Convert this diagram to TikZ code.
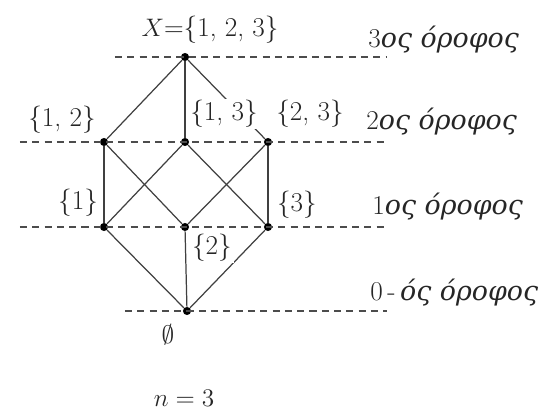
\documentclass[tikz,border=0pt]{standalone}
\usepackage{amsmath,amssymb}
\usepackage{fontspec}
\usepackage{tikz}
\usetikzlibrary{positioning}
\newfontfamily\grfont{DejaVu Serif}

\tikzset{
  vertex/.style={circle, fill=black, inner sep=0pt, minimum size=4.6pt},
  edge/.style={draw=black!75, line width=0.7pt},
  floorline/.style={draw=black!70, line width=0.6pt, dash pattern=on 4pt off 3pt},
  setlabel/.style={fill=white, inner sep=1pt, text=black!85, font=\fontsize{15.5}{18}\selectfont},
  floorlabel/.style={anchor=west, inner sep=0pt, text=black!85, font=\fontsize{15.5}{18}\selectfont},
}
\newcommand{\grit}[1]{{\grfont\itshape\fontsize{15.3}{17}\selectfont #1}}

\begin{document}
\begin{tikzpicture}[x=0.02cm, y=-0.02cm]
  \useasboundingbox (0,0) rectangle (549,413);
  % vertices, one row per floor
  \node[vertex] (top) at (185,57) {};
  \node[vertex] (s12) at (104,142) {};
  \node[vertex] (s13) at (185,142) {};
  \node[vertex] (s23) at (268,142) {};
  \node[vertex] (s1) at (104,227) {};
  \node[vertex] (s2) at (185,227) {};
  \node[vertex] (s3) at (268,227) {};
  \node[vertex] (empty) at (187,311) {};
  % floor lines
  \coordinate (f3a) at (115,57);  \coordinate (f3b) at (386,57);
  \coordinate (f2a) at (20,142);  \coordinate (f2b) at (384,142);
  \coordinate (f1a) at (20,227);  \coordinate (f1b) at (384,227);
  \coordinate (f0a) at (125,311); \coordinate (f0b) at (387,311);
  \draw[floorline] (f3a) -- (f3b);
  \draw[floorline] (f2a) -- (f2b);
  \draw[floorline] (f1a) -- (f1b);
  \draw[floorline] (f0a) -- (f0b);
  % edges of the lattice
  \foreach \a/\b in {top/s12, top/s13, top/s23,
                     s12/s1, s12/s2, s13/s1, s13/s3, s23/s2, s23/s3,
                     s1/empty, s2/empty, s3/empty}
    \draw[edge] (\a) -- (\b);
  % set labels
  \node[setlabel] (lX) at (210,30) {$X$=\{1, 2, 3\}};
  \node[setlabel] (l12) at (62,120) {\{1, 2\}};
  \node[setlabel] (l13) at (224,114) {\{1, 3\}};
  \node[setlabel] (l23) at (310,114) {\{2, 3\}};
  \node[setlabel] (l1) at (78,203) {\{1\}};
  \node[setlabel] (l3) at (297,205) {\{3\}};
  \node[setlabel] (l2) at (212,248) {\{2\}};
  \node[setlabel] (l0) at (168,335) {$\emptyset$};
  \node[setlabel] (ln) at (184,398) {$n=3$};
  % floor names
  \node[floorlabel] (g3) at (368,40) {3\grit{ος όροφος}};
  \node[floorlabel] (g2) at (366,122) {2\grit{ος όροφος}};
  \node[floorlabel] (g1) at (372,207) {1\grit{ος όροφος}};
  \node[floorlabel] (g0) at (370,293) {0\,-\,\grit{ός όροφος}};
\end{tikzpicture}
\end{document}
